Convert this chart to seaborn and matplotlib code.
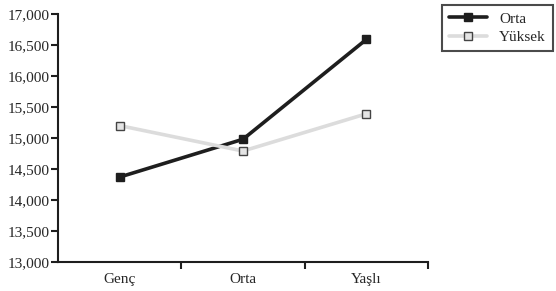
import pandas as pd
import seaborn as sns
import matplotlib.pyplot as plt

# Data
categories = ["Genç", "Orta", "Yaşlı"]
orta = [14370, 14980, 16590]
yuksek = [15200, 14790, 15390]

df = pd.DataFrame({
    "yas": categories * 2,
    "deger": orta + yuksek,
    "grup": ["Orta"] * 3 + ["Yüksek"] * 3,
})

sns.set_style("white")
plt.rcParams["font.family"] = ["Liberation Serif", "DejaVu Serif"]
plt.rcParams["font.size"] = 11

fig = plt.figure(figsize=(5.56, 2.91), dpi=100)
ax = fig.add_axes([58 / 556, 1 - 262 / 291, (428 - 58) / 556, (262 - 14) / 291])

styles = {
    "Orta": dict(color="#1e1e1e", mfc="#1e1e1e", mec="#1e1e1e", lw=2.6),
    "Yüksek": dict(color="#dcdcdc", mfc="#e4e4e4", mec="#444444", lw=2.6),
}

for name, st in styles.items():
    sub = df[df["grup"] == name]
    sns.lineplot(data=sub, x="yas", y="deger", ax=ax, label=name,
                 color=st["color"], linewidth=st["lw"], marker="s",
                 markersize=5.5, markerfacecolor=st["mfc"],
                 markeredgecolor=st["mec"], markeredgewidth=1.0)

ax.set_xlim(-0.5, 2.5)
ax.set_ylim(13000, 17000)
ax.set_yticks(range(13000, 17001, 500))
ax.set_yticklabels([f"{v:,}" for v in range(13000, 17001, 500)])
ax.set_xticks([0, 1, 2])
ax.set_xticklabels(categories)
ax.set_xticks([0.5, 1.5, 2.5], minor=True)
ax.tick_params(axis="x", which="major", length=0, pad=8, labelsize=11)
ax.tick_params(axis="x", which="minor", length=5, width=1.5, direction="out",
               bottom=True, color="#1e1e1e")
ax.tick_params(axis="y", length=5, width=1.5, direction="out", left=True,
               color="#1e1e1e", pad=1, labelsize=11)
ax.set_xlabel("")
ax.set_ylabel("")

for side in ["top", "right"]:
    ax.spines[side].set_visible(False)
for side in ["left", "bottom"]:
    ax.spines[side].set_color("#1e1e1e")
    ax.spines[side].set_linewidth(1.5)

handles, labels = ax.get_legend_handles_labels()
ax.get_legend().remove()
leg = fig.legend(handles, labels, loc="upper left",
                 bbox_to_anchor=(442 / 556, 1 - 5 / 291),
                 frameon=True, fancybox=False, edgecolor="#1e1e1e",
                 handlelength=2.5, handletextpad=0.8, borderpad=0.45,
                 labelspacing=0.3, fontsize=11, borderaxespad=0)
leg.get_frame().set_linewidth(1.5)

fig.savefig("out.png", dpi=100)
